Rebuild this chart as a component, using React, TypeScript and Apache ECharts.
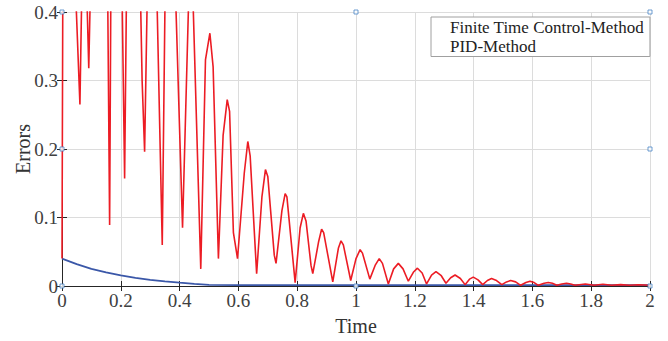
import React, { useEffect, useRef } from "react";
import * as echarts from "echarts";

const seriesNames = ["Finite Time Control-Method", "PID-Method"];
const xTicks = [0, 0.2, 0.4, 0.6, 0.8, 1, 1.2, 1.4, 1.6, 1.8, 2];
const yTicks = [0, 0.1, 0.2, 0.3, 0.4];

// Finite time control error (blue)
const finiteTime: [number, number][] = [
  [0, 0.04], [0.05, 0.032], [0.1, 0.025], [0.15, 0.02], [0.2, 0.0155],
  [0.25, 0.012], [0.3, 0.009], [0.35, 0.0068], [0.4, 0.0048], [0.45, 0.003],
  [0.5, 0.0016], [0.6, 0.0013], [0.8, 0.0012], [1.0, 0.0012], [1.2, 0.0012],
  [1.4, 0.0012], [1.6, 0.0012], [1.8, 0.0012], [2.0, 0.0012],
];

// PID error (red); values above 0.4 leave the visible range
const pid: [number, number][] = [
  [0, 0.04], [0.006, 0.9], [0.03, 0.9],
  [0.04, 0.5], [0.061, 0.265], [0.07, 0.5],
  [0.08, 0.5], [0.091, 0.318], [0.1, 0.5],
  [0.13, 0.8], [0.154, 0.5], [0.162, 0.089], [0.167, 0.5],
  [0.185, 0.8], [0.202, 0.5], [0.213, 0.157], [0.221, 0.5],
  [0.24, 0.8], [0.2635, 0.5], [0.2725, 0.3], [0.281, 0.196], [0.293, 0.5],
  [0.305, 0.7], [0.319, 0.5], [0.341, 0.06], [0.3526, 0.5],
  [0.365, 0.7], [0.381, 0.5], [0.41, 0.085], [0.436, 0.5],
  [0.438, 0.52], [0.44, 0.5], [0.472, 0.025],
  [0.488, 0.33], [0.503, 0.369], [0.514, 0.32], [0.532, 0.04],
  [0.548, 0.22], [0.562, 0.272], [0.57, 0.255], [0.583, 0.078], [0.597, 0.04],
  [0.62, 0.165], [0.632, 0.211], [0.64, 0.19], [0.662, 0.018],
  [0.68, 0.13], [0.692, 0.17], [0.7, 0.16], [0.722, 0.045], [0.728, 0.033],
  [0.748, 0.11], [0.759, 0.135], [0.765, 0.13], [0.793, 0.005],
  [0.81, 0.085], [0.821, 0.106], [0.83, 0.095], [0.847, 0.03], [0.853, 0.018],
  [0.873, 0.065], [0.883, 0.083], [0.89, 0.078], [0.921, 0.006],
  [0.94, 0.055], [0.949, 0.066], [0.957, 0.06], [0.982, 0.008],
  [1.0, 0.04], [1.014, 0.053], [1.022, 0.048], [1.047, 0.01],
  [1.065, 0.03], [1.079, 0.04], [1.09, 0.033], [1.11, 0.003],
  [1.128, 0.025], [1.144, 0.033], [1.16, 0.025], [1.178, 0.007],
  [1.195, 0.02], [1.209, 0.026], [1.225, 0.019], [1.24, 0.003],
  [1.257, 0.016], [1.272, 0.021], [1.29, 0.015], [1.306, 0.004],
  [1.322, 0.012], [1.337, 0.016], [1.355, 0.011], [1.371, 0.002],
  [1.386, 0.01], [1.399, 0.013], [1.415, 0.009], [1.431, 0.002],
  [1.447, 0.008], [1.461, 0.011], [1.478, 0.008], [1.496, 0.002],
  [1.512, 0.006], [1.526, 0.008], [1.543, 0.006], [1.56, 0.001],
  [1.578, 0.005], [1.592, 0.007], [1.606, 0.005], [1.62, 0.001],
  [1.64, 0.004], [1.654, 0.005], [1.668, 0.004], [1.683, 0.001],
  [1.7, 0.003], [1.716, 0.004], [1.73, 0.003], [1.745, 0.001],
  [1.78, 0.003], [1.81, 0.001], [1.84, 0.0025], [1.87, 0.001],
  [1.9, 0.002], [1.93, 0.001], [1.96, 0.0018], [2.0, 0.001],
];

// small selection handles visible on the figure frame
const handles: [number, number][] = [
  [0, 0], [0, 0.2], [0, 0.4], [1, 0], [1, 0.4], [2, 0], [2, 0.2], [2, 0.4],
];

const FONT = "'Liberation Serif', 'Times New Roman', serif";

export default function App() {
  const ref = useRef<HTMLDivElement>(null);
  useEffect(() => {
    if (!ref.current) return;
    const chart = echarts.init(ref.current, undefined, { renderer: "svg" });
    const axisLineStyle = { color: "#262626", width: 1 };
    const fmt = (v: number) => String(Math.round(v * 10) / 10);
    chart.setOption({
      animation: false,
      backgroundColor: "#ffffff",
      textStyle: { fontFamily: FONT },
      grid: { left: 62, top: 12, width: 588, height: 274, containLabel: false },
      legend: {
        data: seriesNames,
        icon: "none",
        orient: "vertical",
        left: 431,
        top: 17,
        itemWidth: 9,
        itemHeight: 14,
        itemGap: 1.5,
        padding: [2, 6, 2, 5],
        backgroundColor: "#ffffff",
        borderColor: "#a0a0a0",
        borderWidth: 1,
        selectedMode: false,
        textStyle: { fontFamily: FONT, fontSize: 17, color: "#222", lineHeight: 17 },
      },
      xAxis: [
        {
          type: "value",
          min: 0,
          max: 2,
          interval: 0.2,
          name: "Time",
          nameLocation: "middle",
          nameGap: 30,
          nameMoveOverlap: false,
          nameTextStyle: { fontFamily: FONT, fontSize: 20, color: "#333" },
          axisLine: { show: true, lineStyle: axisLineStyle },
          axisTick: { show: true, inside: true, length: 5, lineStyle: axisLineStyle },
          axisLabel: { fontFamily: FONT, fontSize: 19, color: "#404040", margin: 5, formatter: fmt },
          splitLine: { show: true, lineStyle: { color: "#dcdcdc", width: 1 } },
        },
        {
          type: "value",
          position: "top",
          min: 0,
          max: 2,
          interval: 0.2,
          axisLine: { show: true, lineStyle: axisLineStyle },
          axisTick: { show: true, inside: true, length: 5, lineStyle: axisLineStyle },
          axisLabel: { show: false },
          splitLine: { show: false },
        },
      ],
      yAxis: [
        {
          type: "value",
          min: 0,
          max: 0.4,
          interval: 0.1,
          name: "Errors",
          nameLocation: "middle",
          nameGap: 29,
          nameMoveOverlap: false,
          nameTextStyle: { fontFamily: FONT, fontSize: 20, color: "#333" },
          axisLine: { show: true, lineStyle: axisLineStyle },
          axisTick: { show: true, inside: true, length: 5, lineStyle: axisLineStyle },
          axisLabel: { fontFamily: FONT, fontSize: 19, color: "#404040", margin: 4, formatter: fmt },
          splitLine: { show: true, lineStyle: { color: "#dcdcdc", width: 1 } },
        },
        {
          type: "value",
          position: "right",
          min: 0,
          max: 0.4,
          interval: 0.1,
          axisLine: { show: true, lineStyle: axisLineStyle },
          axisTick: { show: true, inside: true, length: 5, lineStyle: axisLineStyle },
          axisLabel: { show: false },
          splitLine: { show: false },
        },
      ],
      series: [
        {
          name: seriesNames[0],
          type: "line",
          data: finiteTime,
          showSymbol: false,
          symbol: "none",
          lineStyle: { color: "#3a57a8", width: 1.8 },
          itemStyle: { color: "#3a57a8" },
          clip: true,
          z: 2,
        },
        {
          name: seriesNames[1],
          type: "line",
          data: pid,
          showSymbol: false,
          symbol: "none",
          lineStyle: { color: "#ec1c24", width: 1.6 },
          itemStyle: { color: "#ec1c24" },
          clip: true,
          z: 3,
        },
        {
          name: "handles",
          type: "scatter",
          data: handles,
          symbol: "rect",
          symbolSize: 4,
          clip: false,
          silent: true,
          itemStyle: { color: "#ffffff", borderColor: "#4a86c5", borderWidth: 1 },
          z: 5,
        },
      ],
    });
    return () => chart.dispose();
  }, []);
  return (
    <div
      ref={ref}
      style={{ position: "fixed", left: 0, top: 0, width: 668, height: 341 }}
    />
  );
}
